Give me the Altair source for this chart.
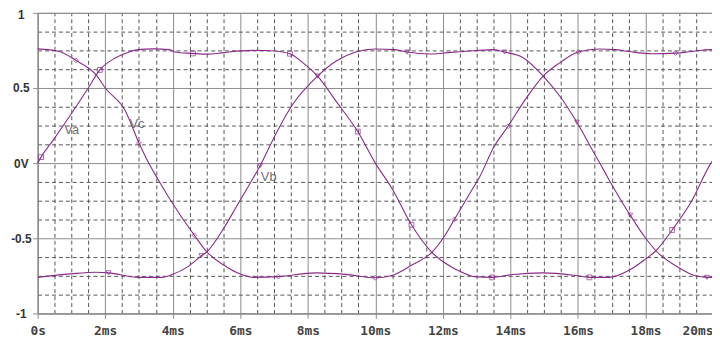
import altair as alt
import pandas as pd

# ---- data (time in ms, voltage in V) ----
t_va = [0.0, 0.1, 0.45, 0.79, 1.15, 1.5, 1.84, 2.3, 2.65, 2.98, 3.4, 3.9, 4.05, 4.6, 5.0, 5.5, 5.9,
        6.5, 6.9, 7.47, 7.86, 8.29, 8.83, 9.48, 10.0, 10.49, 11.07, 11.66, 12.24, 12.6, 12.92, 13.46,
        14.0, 14.97, 15.94, 16.34, 16.92, 17.5, 17.99, 18.31, 18.79, 19.36, 19.94, 20.0]
v_va = [0.0, 0.04, 0.15, 0.26, 0.38, 0.5, 0.62, 0.70, 0.735, 0.755, 0.76, 0.755, 0.74, 0.73, 0.725,
        0.735, 0.745, 0.75, 0.748, 0.728, 0.667, 0.579, 0.414, 0.21, 0.0, -0.167, -0.41, -0.59, -0.69,
        -0.73, -0.755, -0.76, -0.743, -0.73, -0.748, -0.76, -0.76, -0.715, -0.64, -0.583, -0.445,
        -0.255, 0.0, 0.02]

t_vb = [0.0, 0.98, 1.72, 2.1, 2.98, 3.67, 4.0, 4.44, 4.85, 5.01, 5.52, 5.91, 6.25, 6.59, 7.08, 7.56,
        8.29, 8.83, 9.42, 10.0, 10.58, 10.94, 11.66, 12.24, 12.92, 13.51, 13.83, 14.39, 14.97, 15.46,
        15.97, 16.43, 16.68, 16.92, 17.55, 17.99, 18.31, 18.97, 19.45, 19.82, 20.0]
v_vb = [-0.76, -0.737, -0.726, -0.73, -0.76, -0.76, -0.74, -0.69, -0.616, -0.59, -0.43, -0.28, -0.15,
        -0.017, 0.206, 0.393, 0.579, 0.678, 0.739, 0.759, 0.755, 0.739, 0.726, 0.737, 0.748, 0.755,
        0.739, 0.70, 0.579, 0.447, 0.272, 0.086, -0.013, -0.11, -0.347, -0.495, -0.583, -0.693,
        -0.748, -0.76, -0.76]

t_vc = [0.0, 0.64, 1.13, 1.72, 2.01, 2.59, 3.0, 3.32, 3.57, 3.96, 4.64, 5.01, 5.52, 5.91, 6.39, 7.13,
        8.25, 9.12, 10.0, 10.49, 11.07, 11.69, 12.05, 12.34, 12.92, 13.07, 13.51, 13.93, 14.48, 14.97,
        15.46, 16.01, 16.63, 17.1, 17.5, 18.19, 18.89, 19.36, 19.94, 20.0]
v_vc = [0.76, 0.743, 0.684, 0.59, 0.498, 0.35, 0.134, -0.013, -0.11, -0.255, -0.48, -0.59, -0.68,
        -0.73, -0.76, -0.755, -0.73, -0.74, -0.763, -0.748, -0.68, -0.59, -0.485, -0.375, -0.156,
        -0.1, 0.107, 0.245, 0.436, 0.579, 0.667, 0.739, 0.759, 0.755, 0.743, 0.728, 0.732, 0.743,
        0.755, 0.755]

# markers along each trace
mk_va_t = [0.1, 1.84, 4.6, 7.47, 9.48, 11.07, 13.46, 16.34, 18.79]
mk_va_v = [0.04, 0.62, 0.73, 0.728, 0.21, -0.41, -0.76, -0.76, -0.445]
mk_vb_t = [2.1, 4.85, 6.59, 8.29, 10.94, 13.83, 15.97, 17.55, 19.82]
mk_vb_v = [-0.73, -0.616, -0.017, 0.579, 0.739, 0.739, 0.272, -0.347, -0.76]
mk_vc_t = [1.13, 3.0, 4.64, 7.13, 10.0, 12.34, 13.93, 16.01, 18.89]
mk_vc_v = [0.684, 0.134, -0.48, -0.755, -0.763, -0.375, 0.245, 0.739, 0.732]

trace_names = ["Va", "Vb", "Vc"]
label_t = [0.79, 6.61, 2.72]
label_v = [0.197, -0.118, 0.237]

x_major = [0, 2, 4, 6, 8, 10, 12, 14, 16, 18, 20]
x_minor = [i * 0.5 for i in range(41) if (i * 0.5) % 2 != 0]
y_major = [-1, -0.5, 0, 0.5, 1]
y_minor = [-1 + i * 0.125 for i in range(17) if (i % 4) != 0]

# ---- tables ----
lines = pd.concat([
    pd.DataFrame({"t": t_va, "v": v_va, "name": "Va"}),
    pd.DataFrame({"t": t_vb, "v": v_vb, "name": "Vb"}),
    pd.DataFrame({"t": t_vc, "v": v_vc, "name": "Vc"}),
], ignore_index=True)
marks = pd.concat([
    pd.DataFrame({"t": mk_va_t, "v": mk_va_v, "name": "Va"}),
    pd.DataFrame({"t": mk_vb_t, "v": mk_vb_v, "name": "Vb"}),
    pd.DataFrame({"t": mk_vc_t, "v": mk_vc_v, "name": "Vc"}),
], ignore_index=True)
labels = pd.DataFrame({"t": label_t, "v": label_v, "name": trace_names})

PURPLE = "#8a2a8a"
GRID = "#8c8c8c"
xs = alt.Scale(domain=[0, 20], nice=False, zero=False)
ys = alt.Scale(domain=[-1, 1], nice=False, zero=False)

minor = alt.Chart(lines).mark_line(opacity=0).encode(
    x=alt.X("t:Q", scale=xs, axis=alt.Axis(orient="top", values=x_minor, grid=True, gridDash=[4, 3],
                                          gridColor="#555555", gridWidth=1, labels=False, ticks=False,
                                          domain=False, title=None)),
    y=alt.Y("v:Q", scale=ys, axis=alt.Axis(orient="right", values=y_minor, grid=True, gridDash=[4, 3],
                                          gridColor="#555555", gridWidth=1, labels=False, ticks=False,
                                          domain=False, title=None)),
    detail="name:N",
)

x_axis = alt.Axis(
    values=x_major, grid=True, gridColor=GRID, gridWidth=1, domainColor=GRID, tickColor=GRID,
    tickSize=5, labelPadding=6, labelFlush=False, title=None,
    labelExpr="datum.value == 0 ? '0s' : datum.value + 'ms'",
    labelFont="DejaVu Sans Mono", labelFontSize=13, labelFontWeight="bold", labelColor="#444444",
    labelAlign={"condition": {"test": "datum.value == 20", "value": "right"}, "value": "center"},
)
y_axis = alt.Axis(
    values=y_major, grid=True, gridColor=GRID, gridWidth=1, domainColor=GRID, tickColor=GRID,
    tickSize=5, labelPadding=12, labelAlign="center", title=None,
    labelBaseline={"condition": {"test": "datum.value == 1", "value": "top"}, "value": "middle"},
    labelOffset={"condition": {"test": "datum.value == 1", "value": -3}, "value": 0},
    labelExpr="datum.value == 0 ? '0V' : '' + datum.value",
    labelFont="Liberation Sans", labelFontSize=12, labelFontWeight="bold", labelColor="#333333",
)

trace = alt.Chart(lines).mark_line(color=PURPLE, strokeWidth=1.1, interpolate="monotone").encode(
    x=alt.X("t:Q", scale=xs, axis=x_axis),
    y=alt.Y("v:Q", scale=ys, axis=y_axis),
    detail="name:N",
)

points = alt.Chart(marks).mark_point(filled=False, color=PURPLE, size=24, strokeWidth=1).encode(
    x="t:Q", y="v:Q",
    shape=alt.Shape("name:N", scale=alt.Scale(domain=trace_names,
                                              range=["square", "triangle-down", "diamond"]),
                    legend=None),
)

texts = alt.Chart(labels).mark_text(align="left", baseline="alphabetic", font="Liberation Sans",
                                    fontSize=13, color="#707070").encode(
    x="t:Q", y="v:Q", text="name:N",
)

main = alt.layer(trace, points, texts)

chart = alt.layer(minor, main).resolve_axis(x="independent", y="independent").properties(
    width=683, height=304,
    autosize=alt.AutoSizeParams(type="none"),
    padding={"left": 30, "top": 3, "right": -1, "bottom": 26},
).configure_view(stroke=GRID, strokeWidth=1)

chart.save("out.html", embed_options={"renderer": "svg", "actions": False})
